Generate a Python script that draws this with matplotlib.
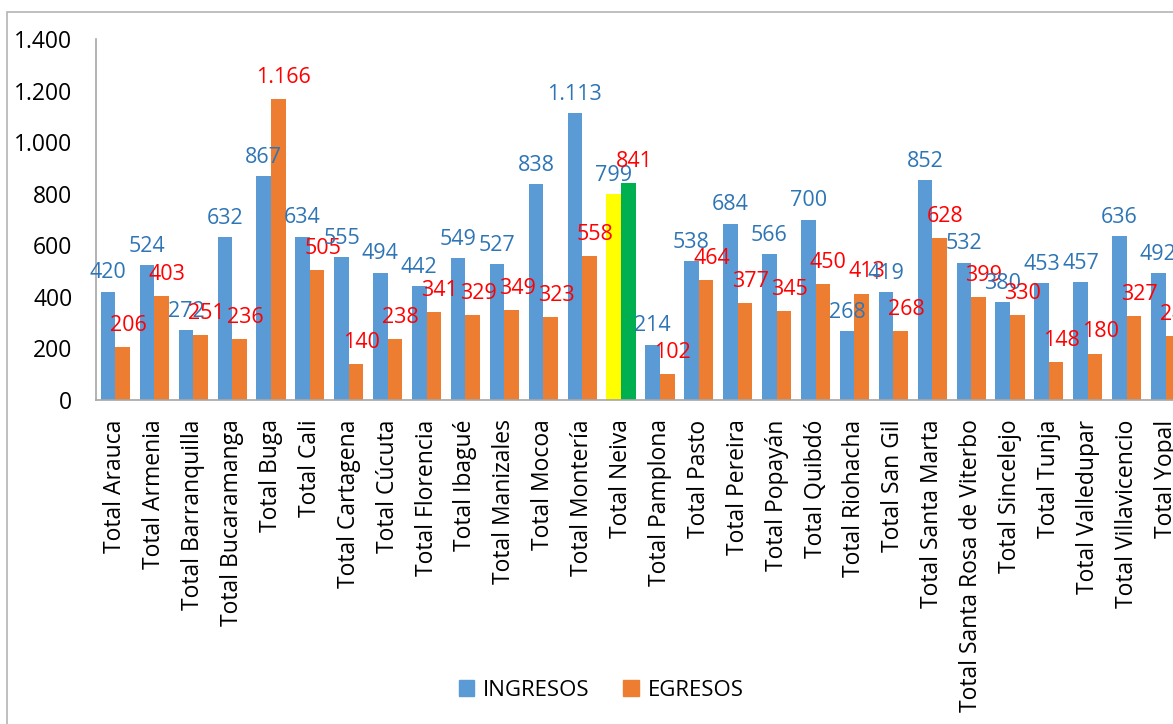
import matplotlib
matplotlib.use("Agg")
import matplotlib.pyplot as plt
from matplotlib.patches import Rectangle, Patch
from matplotlib.ticker import FuncFormatter
import numpy as np

plt.rcParams['font.family'] = ['Open Sans', 'DejaVu Sans']

categories = ["Total Arauca", "Total Armenia", "Total Barranquilla", "Total Bucaramanga",
              "Total Buga", "Total Cali", "Total Cartagena", "Total Cúcuta",
              "Total Florencia", "Total Ibagué", "Total Manizales", "Total Mocoa",
              "Total Montería", "Total Neiva", "Total Pamplona", "Total Pasto",
              "Total Pereira", "Total Popayán", "Total Quibdó", "Total Riohacha",
              "Total San Gil", "Total Santa Marta", "Total Santa Rosa de Viterbo",
              "Total Sincelejo", "Total Tunja", "Total Valledupar",
              "Total Villavicencio", "Total Yopal"]
ingresos = [420, 524, 272, 632, 867, 634, 555, 494, 442, 549, 527, 838, 1113, 799,
            214, 538, 684, 566, 700, 268, 419, 852, 532, 380, 453, 457, 636, 492]
egresos = [206, 403, 251, 236, 1166, 505, 140, 238, 341, 329, 349, 323, 558, 841,
           102, 464, 377, 345, 450, 413, 268, 628, 399, 330, 148, 180, 327, 247]
highlight = "Total Neiva"

W, H = 1173, 724
fig = plt.figure(figsize=(W / 100, H / 100), dpi=100)

# outer chart border (cropped at right/bottom)
fig.patches.append(Rectangle((7 / W, -0.1), 1.2, 1 - 12 / H + 0.1, transform=fig.transFigure,
                             fill=False, edgecolor='#B4B4B4', linewidth=1.2))

ax = fig.add_axes([96 / W, 1 - 400 / H, 1089 / W, 361 / H])

blue, orange = '#5B9BD5', '#ED7D31'
x = np.arange(len(categories))
bw = 0.375
cb = [('#FFFF00' if c == highlight else blue) for c in categories]
co = [('#00B050' if c == highlight else orange) for c in categories]
ax.bar(x - bw / 2, ingresos, bw, color=cb, label='INGRESOS')
ax.bar(x + bw / 2, egresos, bw, color=co, label='EGRESOS')

fmt = lambda v: f"{v:,}".replace(",", ".")
for i in range(len(categories)):
    ax.annotate(fmt(ingresos[i]), (x[i] - bw / 2, ingresos[i]), xytext=(0, 6),
                textcoords='offset points', ha='center', va='bottom',
                color='#2E75B6', fontsize=15.5)
    ax.annotate(fmt(egresos[i]), (x[i] + bw / 2, egresos[i]), xytext=(4, 8),
                textcoords='offset points', ha='center', va='bottom',
                color='#FF0000', fontsize=15.5)

ax.set_xlim(-0.5, len(categories) - 0.5)
ax.set_ylim(0, 1400)
ax.set_yticks(range(0, 1401, 200))
ax.yaxis.set_major_formatter(FuncFormatter(lambda v, p: fmt(int(v))))
ax.set_xticks(x)
ax.set_xticklabels(categories, rotation=90, fontsize=16.5)
ax.tick_params(axis='y', length=0, pad=17, labelsize=16.5)
ax.tick_params(axis='x', length=0, pad=14)
for s in ['top', 'right']:
    ax.spines[s].set_visible(False)
for s in ['left', 'bottom']:
    ax.spines[s].set_color('#A6A6A6')
    ax.spines[s].set_linewidth(1.2)
ax.set_facecolor('none')

handles = [Patch(color=blue), Patch(color=orange)]
fig.legend(handles, ['INGRESOS', 'EGRESOS'], loc='center', bbox_to_anchor=(601 / W, 1 - 690 / H),
           ncol=2, frameon=False, fontsize=16, handlelength=0.7, handleheight=0.7,
           handletextpad=0.4, columnspacing=1.5)

fig.savefig('out.png', dpi=100)
